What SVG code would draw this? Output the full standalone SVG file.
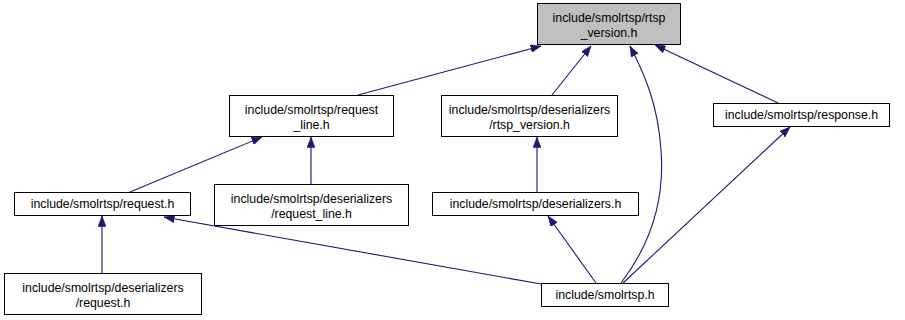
<svg xmlns="http://www.w3.org/2000/svg" width="905" height="320" viewBox="0 0 905 320">
  <style>
    .box { fill: #ffffff; stroke: #000000; stroke-width: 1; }
    .root { fill: #bfbfbf; }
    .lbl { font-family: "Liberation Sans", Arial, Helvetica, sans-serif; font-size: 12.3px; fill: #000000; text-anchor: middle; }
    .edge { fill: none; stroke: #191970; stroke-width: 1.1; }
  </style>
  <defs>
    <marker id="arrow" markerUnits="userSpaceOnUse" markerWidth="11" markerHeight="8" refX="10.5" refY="4" orient="auto">
      <path d="M0,0 L10.5,4 L0,8 z" fill="#191970" stroke="#191970" stroke-width="0.5"/>
    </marker>
  </defs>

  <rect width="905" height="320" fill="#ffffff"/>

  <!-- dependency edges: tail at the including header, arrowhead at the included one -->
  <g id="edges">
    <path class="edge" marker-end="url(#arrow)" d="M358,95 L541,46"/>
    <path class="edge" marker-end="url(#arrow)" d="M552,95 L591,46"/>
    <path class="edge" marker-end="url(#arrow)" d="M621,283 C650,245 665,200 661,150 C658,105 645,75 630,46"/>
    <path class="edge" marker-end="url(#arrow)" d="M778,103 L655,45"/>
    <path class="edge" marker-end="url(#arrow)" d="M130,192 L262,137"/>
    <path class="edge" marker-end="url(#arrow)" d="M311,185 L311,137"/>
    <path class="edge" marker-end="url(#arrow)" d="M537,192 L537,137"/>
    <path class="edge" marker-end="url(#arrow)" d="M102,273 L102,216"/>
    <path class="edge" marker-end="url(#arrow)" d="M541,284 L164,217"/>
    <path class="edge" marker-end="url(#arrow)" d="M596,283 L548,216"/>
    <path class="edge" marker-end="url(#arrow)" d="M623,283 L790,127"/>
  </g>

  <g id="node-rtsp_version">
    <rect class="box root" x="537.5" y="3.5" width="143" height="41"/>
    <text class="lbl" x="609" y="22">include/smolrtsp/rtsp</text>
    <text class="lbl" x="609" y="37">_version.h</text>
  </g>

  <g id="node-request_line">
    <rect class="box" x="229.5" y="95.5" width="164" height="41"/>
    <text class="lbl" x="311.5" y="114">include/smolrtsp/request</text>
    <text class="lbl" x="311.5" y="129">_line.h</text>
  </g>

  <g id="node-deserializers-rtsp_version">
    <rect class="box" x="441.5" y="95.5" width="176" height="41"/>
    <text class="lbl" x="529.5" y="114">include/smolrtsp/deserializers</text>
    <text class="lbl" x="529.5" y="129">/rtsp_version.h</text>
  </g>

  <g id="node-response">
    <rect class="box" x="713.5" y="103.5" width="176" height="23"/>
    <text class="lbl" x="801.5" y="119">include/smolrtsp/response.h</text>
  </g>

  <g id="node-request">
    <rect class="box" x="14.5" y="192.5" width="176" height="23"/>
    <text class="lbl" x="102.5" y="208">include/smolrtsp/request.h</text>
  </g>

  <g id="node-deserializers-request_line">
    <rect class="box" x="214.5" y="184.5" width="194" height="41"/>
    <text class="lbl" x="311.5" y="203">include/smolrtsp/deserializers</text>
    <text class="lbl" x="311.5" y="218">/request_line.h</text>
  </g>

  <g id="node-deserializers">
    <rect class="box" x="432.5" y="192.5" width="206" height="23"/>
    <text class="lbl" x="535.5" y="208">include/smolrtsp/deserializers.h</text>
  </g>

  <g id="node-deserializers-request">
    <rect class="box" x="4.5" y="273.5" width="197" height="41"/>
    <text class="lbl" x="103" y="292">include/smolrtsp/deserializers</text>
    <text class="lbl" x="103" y="307">/request.h</text>
  </g>

  <g id="node-smolrtsp">
    <rect class="box" x="541.5" y="283.5" width="127" height="23"/>
    <text class="lbl" x="605" y="299">include/smolrtsp.h</text>
  </g>
</svg>
